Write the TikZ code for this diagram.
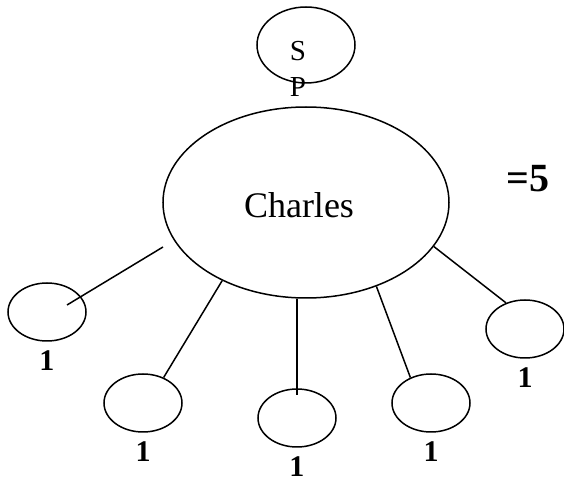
\documentclass[tikz,border=0pt]{standalone}
\usepackage{fontspec}
\setmainfont{Liberation Serif}
\usetikzlibrary{shapes.geometric}

\begin{document}
\begin{tikzpicture}[x=0.5pt, y=-0.5pt, line width=0.75pt,
		kid/.style={draw, ellipse, inner sep=0pt, minimum width=39pt, minimum height=29pt},
		one/.style={label={[font=\fontsize{15}{18}\selectfont\bfseries, inner sep=0pt, label distance=4pt]below:1}}]
		\useasboundingbox (0,0) rectangle (564,481);
		
		\node[draw, ellipse, inner sep=0pt, minimum width=49pt, minimum height=38pt] (sp) at (306,45) {};
		\node[align=center, anchor=north, inner sep=0pt, font=\fontsize{14.5}{18}\selectfont] (sptext) at (298,41) {S\\P};
		\node[draw, ellipse, inner sep=0pt, minimum width=143pt, minimum height=95.5pt] (charles) at (306,202.5) {};
		\node[anchor=base, inner sep=0pt, font=\fontsize{18}{22}\selectfont] (name) at (299,218) {Charles};
		\node[anchor=base, inner sep=0pt, font=\fontsize{20}{24}\selectfont\bfseries] (total) at (528,192) {=5};
		
		\node[kid, one] (k1) at (47,312) {};
		\node[kid, one] (k2) at (143,403) {};
		\node[kid, one] (k3) at (297,418) {};
		\node[kid, one] (k4) at (431,403) {};
		\node[kid, one] (k5) at (525,329) {};
		
		\coordinate (a) at (163,247);
		\coordinate (b) at (67,305);
		
		\path []
		(a) edge (b)
		(charles.223) edge (k2.51)
		(k3.north |- charles.south) edge ([yshift=-3.5pt]k3.north)
		(charles.310) edge (k4.129)
		(charles.341) edge (k5.126);
		
	\end{tikzpicture}
\end{document}
